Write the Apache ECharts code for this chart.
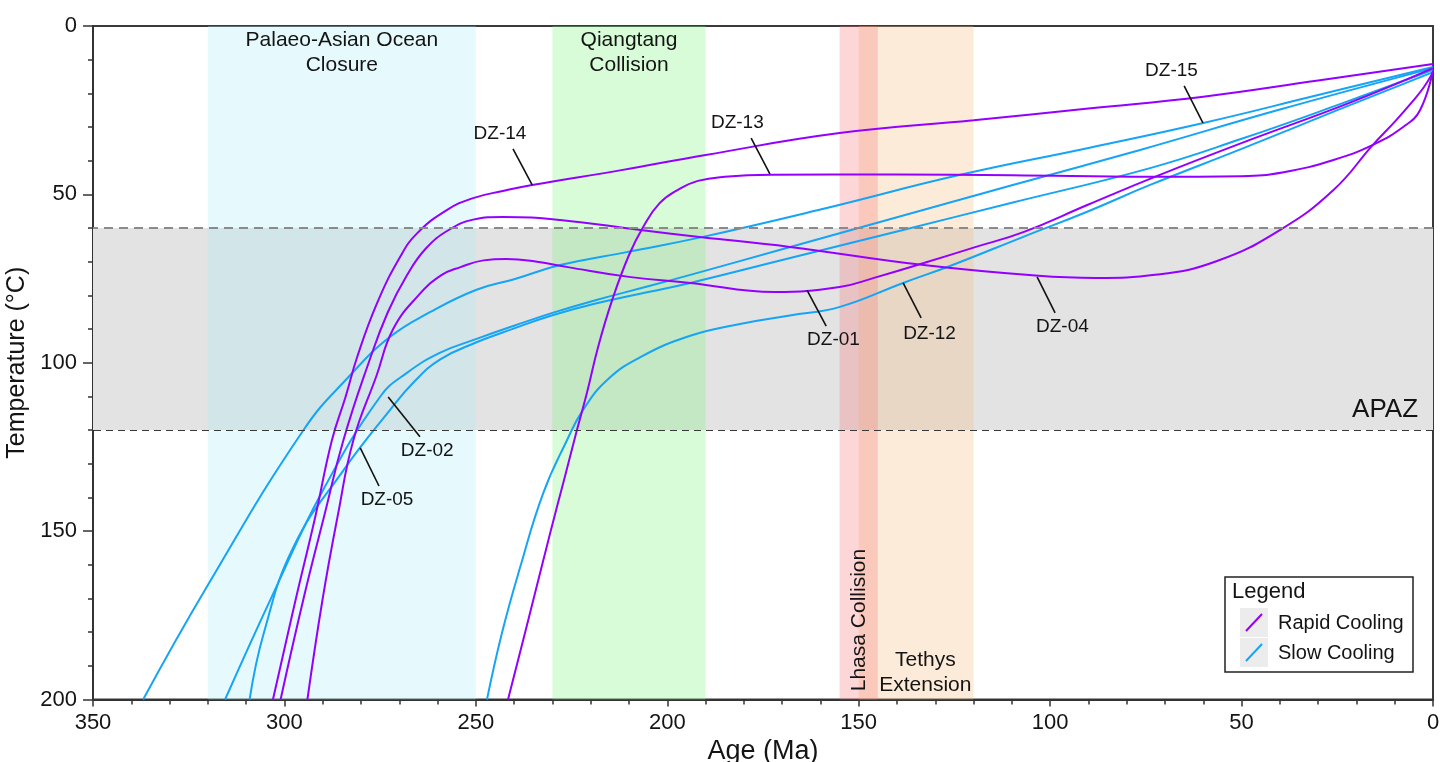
<!DOCTYPE html>
<html>
<head>
<meta charset="utf-8">
<title>Thermal history models</title>
<script src="https://cdn.jsdelivr.net/npm/echarts@6/dist/echarts.min.js"></script>
<style>
  html, body { margin: 0; padding: 0; background: #ffffff; }
  #chart { width: 1440px; height: 762px; }
</style>
</head>
<body>
<div id="chart"></div>
<script>
// Time–temperature paths, each point is [age (Ma), temperature (°C)]
// Rapid cooling samples
const dz14 = [[303,200],[297,170],[292,146],[287.6,123],[284,110],[281,98.3],[275.8,82.3],[269.8,68.6],[265.3,61.5],[257.5,54.6],[250.7,51.1],[243,49],[235.3,47.2],[212,42.8],[190,38.3],[155,31.8],[120,28],[90,24.5],[60,21],[30,16.2],[0,11.3]];
const dz04 = [[301,200],[295,170],[289.5,145],[284.6,123],[278,100],[273,85],[268,74],[263,66],[257,60.5],[250.7,57.5],[243,56.7],[228,57.6],[207,60.6],[191,62.7],[168,65.6],[133,71],[103,74.2],[88,74.8],[72,73.8],[56.4,69.8],[40,60.6],[26,48.7],[15.7,35.3],[9.9,28.3],[5.5,22.6],[2.4,18.2],[0,13.7]];
const dz01 = [[294,200],[290,170],[286,145],[282,123],[276,104],[271.6,90],[265,80],[259,74],[254,71.6],[248,69.6],[242,69.2],[234,70],[226,71.6],[210,74.5],[194,76.3],[172,79],[155,77.5],[146,74.8],[133,70.4],[120,65.8],[107,61.2],[90,53],[72,44.5],[48,33.9],[22,22.9],[0,12.5]];
const dz13 = [[241.6,200],[236,175],[230.6,150.6],[227,135],[223.6,120],[221,109],[218,95],[214.4,81.4],[210,68],[206.3,59.7],[202,52.6],[197,48.5],[192,46],[185,44.8],[173,44.2],[140,44.1],[110,44.3],[74,44.8],[50,44.6],[39,43.4],[26,39.8],[15.7,35.3],[7.8,30],[3.4,25],[0,13.2]];
// Slow cooling samples
const dz15 = [[336.9,200],[320.3,166.6],[295.1,120.1],[282.9,103.8],[272.4,92.3],[262,85],[250,78.4],[240,75.2],[228,71],[210,67],[191,62.7],[160,54.5],[123.5,44.2],[90,36.2],[60,28.8],[30,20.5],[0,12.2]];
const dz02 = [[315.5,200],[302.9,168.5],[289.9,137.8],[275,110.1],[268,103],[259.3,97],[250,93],[240,89],[230,85.2],[219,81.5],[205,77.3],[194,73.9],[170,66.3],[140,56.8],[110,47.3],[76.5,36.8],[40,24.8],[0,12.5]];
const dz05 = [[309.1,200],[305.4,180.3],[297.6,154.6],[284.5,131.8],[272.4,114],[266,105.5],[259.3,99],[250,94],[240,89.8],[230,85.9],[219,82.5],[205,79],[194,76.3],[170,69.5],[140,61],[110,52.5],[73.9,42.2],[50,33.5],[25,23.5],[0,13]];
const dz12 = [[247.1,200],[243.2,180.3],[238.4,160.6],[232.4,138.7],[226.2,123],[222,114],[215.7,105.1],[207,98.3],[194,92],[181,88.5],[168,86],[154.9,83.4],[138.4,76.3],[126,71.2],[107,62.6],[90,55],[73.9,47.2],[50,36.5],[25,25],[0,13.7]];

const rapidPaths = [dz14, dz04, dz01, dz13];
const slowPaths = [dz15, dz02, dz05, dz12];

// Tectonic events: [label, older age, younger age, fill]
const eventBands = [
  ['Palaeo-Asian Ocean\nClosure', 320, 250, 'rgba(172,235,248,0.3)'],
  ['Qiangtang\nCollision', 230, 190, 'rgba(125,245,125,0.3)'],
  ['Tethys\nExtension', 150, 120, 'rgba(248,189,128,0.3)'],
  ['Lhasa Collision', 155, 145, 'rgba(248,122,122,0.3)']
];
// Event label anchors: [text, age, temperature, rotation]
const eventLabels = [
  ['Palaeo-Asian Ocean\nClosure', 285, 7.9, 0],
  ['Qiangtang\nCollision', 210, 7.9, 0],
  ['Lhasa Collision', 150, 176.4, 90],
  ['Tethys\nExtension', 132.6, 192, 0]
];

// Apatite partial annealing zone (°C)
const apaz = [60, 120];

// Sample callouts: [name, text anchor, leader start, leader end]
const callouts = [
  ['DZ-14', [243.7, 32.1], [240.3, 36.5], [235.3, 47.2]],
  ['DZ-13', [181.7, 28.8], [178.1, 33.3], [173.2, 43.9]],
  ['DZ-15', [68.3, 13.2], [65.0, 17.8], [60.1, 28.8]],
  ['DZ-01', [156.6, 93.2], [158.5, 89.1], [163.5, 78.4]],
  ['DZ-12', [131.5, 91.3], [133.7, 86.7], [138.4, 76.3]],
  ['DZ-04', [96.8, 89.2], [98.7, 85.2], [103.4, 74.5]],
  ['DZ-02', [262.7, 126.2], [264.6, 122], [272.9, 110.2]],
  ['DZ-05', [273.2, 140.6], [275.3, 136.6], [280.2, 125.3]]
];

const RAPID = '#9300ff';
const SLOW = '#16a4f6';
const FONT = '"Liberation Sans", Arial, Helvetica, sans-serif';
const INK = '#141414';

const series = [];

// Grey APAZ band underneath everything
series.push({
  type: 'line', data: [], z: 0, silent: true,
  markArea: {
    silent: true,
    itemStyle: { color: '#e3e3e3' },
    data: [[{ yAxis: apaz[0] }, { yAxis: apaz[1] }]]
  }
});

// Event bands and APAZ bounds
series.push({
  type: 'line', data: [], z: 1, silent: true,
  markArea: {
    silent: true,
    label: { show: false },
    data: eventBands.map(b => [
      { xAxis: b[1], itemStyle: { color: b[3] } },
      { xAxis: b[2] }
    ])
  },
  markLine: {
    silent: true, symbol: ['none', 'none'], label: { show: false },
    data: [
      { yAxis: apaz[0], lineStyle: { color: '#8a8a8a', width: 2, type: [9, 6] } },
      { yAxis: apaz[1], lineStyle: { color: '#3a3a3a', width: 1.2, type: [7, 5] } }
    ]
  }
});

// Cooling paths
const pathStyle = { type: 'line', smooth: 0.45, showSymbol: false, symbol: 'none', silent: true };
slowPaths.forEach(p => series.push(Object.assign({}, pathStyle, {
  name: 'Slow Cooling', data: p, z: 3, lineStyle: { color: SLOW, width: 2 }
})));
rapidPaths.forEach(p => series.push(Object.assign({}, pathStyle, {
  name: 'Rapid Cooling', data: p, z: 4, lineStyle: { color: RAPID, width: 2 }
})));

// Callout leader lines
series.push({
  type: 'line', data: [], z: 5, silent: true,
  markLine: {
    silent: true, symbol: ['none', 'none'], label: { show: false },
    lineStyle: { color: '#111', width: 1.6, type: 'solid' },
    data: callouts.map(c => [{ coord: c[2] }, { coord: c[3] }])
  }
});

// Callout and event texts
series.push({
  type: 'scatter', z: 6, silent: true, symbolSize: 0,
  data: callouts.map(c => ({
    name: c[0], value: c[1],
    label: { fontSize: 19 }
  })).concat(eventLabels.map(e => ({
    name: e[0], value: [e[1], e[2]],
    label: { fontSize: 21, lineHeight: 25.5, rotate: e[3] }
  }))).concat([{
    name: 'APAZ', value: [3.9, 114],
    label: { fontSize: 26, align: 'right' }
  }]),
  label: {
    show: true, position: 'inside', formatter: p => p.name,
    color: INK, fontFamily: FONT, align: 'center', verticalAlign: 'middle',
    textBorderWidth: 0, textBorderColor: 'transparent', opacity: 1
  },
  itemStyle: { opacity: 1 }
});

const axisLineStyle = { color: '#333', width: 2 };

const option = {
  animation: false,
  backgroundColor: '#ffffff',
  grid: {
    left: 93, right: 7, top: 26, bottom: 62.5,
    outerBoundsMode: 'none', containLabel: false,
    show: true, borderColor: '#3a3a3a', borderWidth: 2, backgroundColor: 'transparent'
  },
  xAxis: {
    type: 'value', min: 0, max: 350, interval: 50, inverse: true,
    name: 'Age (Ma)', nameLocation: 'middle', nameGap: 37,
    nameTextStyle: { fontSize: 27, color: INK, fontFamily: FONT },
    axisLine: { show: true, onZero: false, lineStyle: axisLineStyle },
    axisTick: { show: true, length: 7, lineStyle: { color: '#333', width: 1.5 } },
    minorTick: { show: true, splitNumber: 5, length: 5, lineStyle: { color: '#333', width: 1.5 } },
    splitLine: { show: false },
    axisLabel: { fontSize: 22, color: INK, fontFamily: FONT, margin: 12 }
  },
  yAxis: {
    type: 'value', min: 0, max: 200, interval: 50, inverse: true,
    name: 'Temperature (°C)', nameLocation: 'middle', nameGap: 58,
    nameTextStyle: { fontSize: 25, color: INK, fontFamily: FONT },
    axisLine: { show: true, onZero: false, lineStyle: axisLineStyle },
    axisTick: { show: true, length: 10, lineStyle: { color: '#333', width: 1.5 } },
    minorTick: { show: true, splitNumber: 5, length: 5, lineStyle: { color: '#333', width: 1.5 } },
    splitLine: { show: false },
    axisLabel: { fontSize: 22, color: INK, fontFamily: FONT, margin: 16 }
  },
  series: series,
  graphic: [
    { type: 'rect', z: 100, shape: { x: 1225, y: 577, width: 188, height: 95 },
      style: { fill: '#ffffff', stroke: '#222', lineWidth: 1.5 } },
    { type: 'text', z: 101, x: 1232, y: 592,
      style: { text: 'Legend', fontSize: 22, fill: INK, fontFamily: FONT, verticalAlign: 'middle' } },
    { type: 'rect', z: 101, shape: { x: 1240, y: 608, width: 28, height: 29 }, style: { fill: '#ececec' } },
    { type: 'rect', z: 101, shape: { x: 1240, y: 638, width: 28, height: 29 }, style: { fill: '#ececec' } },
    { type: 'line', z: 102, shape: { x1: 1246, y1: 631, x2: 1262, y2: 614 }, style: { stroke: RAPID, lineWidth: 2 } },
    { type: 'line', z: 102, shape: { x1: 1246, y1: 661, x2: 1262, y2: 644 }, style: { stroke: SLOW, lineWidth: 2 } },
    { type: 'text', z: 101, x: 1278, y: 623,
      style: { text: 'Rapid Cooling', fontSize: 20, fill: INK, fontFamily: FONT, verticalAlign: 'middle' } },
    { type: 'text', z: 101, x: 1278, y: 653,
      style: { text: 'Slow Cooling', fontSize: 20, fill: INK, fontFamily: FONT, verticalAlign: 'middle' } }
  ]
};

const chart = echarts.init(document.getElementById('chart'), null, { renderer: 'canvas' });
chart.setOption(option);
</script>
</body>
</html>
